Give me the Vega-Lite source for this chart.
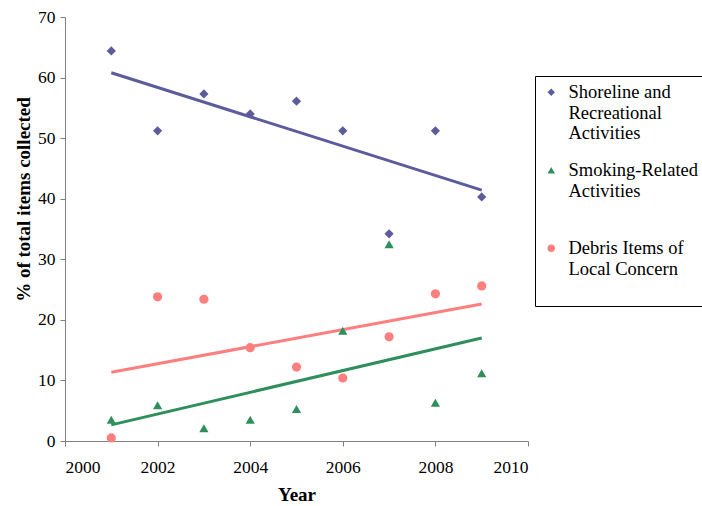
{
  "$schema": "https://vega.github.io/schema/vega-lite/v6.json",
  "width": 463,
  "height": 424,
  "autosize": {"type": "none"},
  "padding": {"left": 65, "top": 17, "right": 174, "bottom": 65},
  "background": "white",
  "config": {
    "view": {"stroke": null},
    "font": "Liberation Serif",
    "axis": {
      "labelFont": "Liberation Serif",
      "labelFontSize": 17.5,
      "labelColor": "black",
      "titleFont": "Liberation Serif",
      "titleFontSize": 19,
      "titleFontWeight": "bold",
      "titleColor": "black",
      "domainColor": "#808080",
      "tickColor": "#808080",
      "tickSize": 5,
      "grid": false
    },
    "style": {
      "guide-label": {"font": "Liberation Serif", "lineHeight": 20.5},
      "guide-title": {"font": "Liberation Serif"}
    },
    "legend": {
      "strokeColor": "black",
      "fillColor": "white",
      "padding": 7,
      "labelFont": "Liberation Serif",
      "labelFontSize": 18.5,
      "labelColor": "black",
      "labelLimit": 0,
      "rowPadding": 18,
      "symbolSize": 55,
      "symbolStrokeWidth": 0,
      "labelOffset": 8
    }
  },
  "data": {
    "values": [
      {"year": 2001, "series": "Shoreline and Recreational Activities", "pct": 64.4},
      {"year": 2002, "series": "Shoreline and Recreational Activities", "pct": 51.2},
      {"year": 2003, "series": "Shoreline and Recreational Activities", "pct": 57.3},
      {"year": 2004, "series": "Shoreline and Recreational Activities", "pct": 54.0},
      {"year": 2005, "series": "Shoreline and Recreational Activities", "pct": 56.1},
      {"year": 2006, "series": "Shoreline and Recreational Activities", "pct": 51.2},
      {"year": 2007, "series": "Shoreline and Recreational Activities", "pct": 34.2},
      {"year": 2008, "series": "Shoreline and Recreational Activities", "pct": 51.2},
      {"year": 2009, "series": "Shoreline and Recreational Activities", "pct": 40.3},
      {"year": 2001, "series": "Smoking-Related Activities", "pct": 3.5},
      {"year": 2002, "series": "Smoking-Related Activities", "pct": 5.9},
      {"year": 2003, "series": "Smoking-Related Activities", "pct": 2.1},
      {"year": 2004, "series": "Smoking-Related Activities", "pct": 3.5},
      {"year": 2005, "series": "Smoking-Related Activities", "pct": 5.3},
      {"year": 2006, "series": "Smoking-Related Activities", "pct": 18.2},
      {"year": 2007, "series": "Smoking-Related Activities", "pct": 32.5},
      {"year": 2008, "series": "Smoking-Related Activities", "pct": 6.3},
      {"year": 2009, "series": "Smoking-Related Activities", "pct": 11.2},
      {"year": 2001, "series": "Debris Items of Local Concern", "pct": 0.5},
      {"year": 2002, "series": "Debris Items of Local Concern", "pct": 23.8},
      {"year": 2003, "series": "Debris Items of Local Concern", "pct": 23.4},
      {"year": 2004, "series": "Debris Items of Local Concern", "pct": 15.4},
      {"year": 2005, "series": "Debris Items of Local Concern", "pct": 12.2},
      {"year": 2006, "series": "Debris Items of Local Concern", "pct": 10.4},
      {"year": 2007, "series": "Debris Items of Local Concern", "pct": 17.2},
      {"year": 2008, "series": "Debris Items of Local Concern", "pct": 24.3},
      {"year": 2009, "series": "Debris Items of Local Concern", "pct": 25.6}
    ]
  },
  "layer": [
    {
      "transform": [{"regression": "pct", "on": "year", "groupby": ["series"]}],
      "mark": {"type": "line", "strokeWidth": 3},
      "encoding": {
        "x": {"field": "year", "type": "quantitative"},
        "y": {"field": "pct", "type": "quantitative"},
        "stroke": {
          "field": "series", "type": "nominal", "legend": null,
          "scale": {
            "domain": ["Debris Items of Local Concern", "Smoking-Related Activities", "Shoreline and Recreational Activities"],
            "range": ["#ff7f7f", "#2e8f5c", "#5c5c9c"]
          }
        }
      }
    },
    {
      "mark": {"type": "point", "filled": true, "opacity": 1},
      "encoding": {
        "x": {
          "field": "year", "type": "quantitative",
          "scale": {"domain": [2000, 2010], "nice": false},
          "axis": {"title": "Year", "values": [2000, 2002, 2004, 2006, 2008, 2010], "format": "d", "labelPadding": 12, "titlePadding": 10, "labelFont": "Liberation Serif", "titleFont": "Liberation Serif"}
        },
        "y": {
          "field": "pct", "type": "quantitative",
          "scale": {"domain": [0, 70], "nice": false},
          "axis": {"title": "% of total items collected", "values": [0, 10, 20, 30, 40, 50, 60, 70], "labelPadding": 5, "titlePadding": 4, "titleY": 182, "labelFont": "Liberation Serif", "titleFont": "Liberation Serif"}
        },
        "color": {
          "field": "series", "type": "nominal",
          "scale": {
            "domain": ["Shoreline and Recreational Activities", "Smoking-Related Activities", "Debris Items of Local Concern"],
            "range": ["#5c5c9c", "#2e8f5c", "#ff7f7f"]
          },
          "legend": {
            "title": null,
            "orient": "none",
            "legendX": 470,
            "legendY": 59,
            "labelFont": "Liberation Serif",
            "labelExpr": "datum.label == 'Shoreline and Recreational Activities' ? ['Shoreline and', 'Recreational', 'Activities'] : datum.label == 'Smoking-Related Activities' ? ['Smoking-Related', 'Activities', ' '] : ['Debris Items of', 'Local Concern', ' ']"
          }
        },
        "shape": {
          "field": "series", "type": "nominal",
          "scale": {
            "domain": ["Shoreline and Recreational Activities", "Smoking-Related Activities", "Debris Items of Local Concern"],
            "range": ["diamond", "triangle-up", "circle"]
          },
          "legend": {
            "title": null,
            "orient": "none",
            "legendX": 470,
            "legendY": 59,
            "labelFont": "Liberation Serif",
            "labelExpr": "datum.label == 'Shoreline and Recreational Activities' ? ['Shoreline and', 'Recreational', 'Activities'] : datum.label == 'Smoking-Related Activities' ? ['Smoking-Related', 'Activities', ' '] : ['Debris Items of', 'Local Concern', ' ']"
          }
        },
        "size": {"value": 85}
      }
    }
  ]
}
